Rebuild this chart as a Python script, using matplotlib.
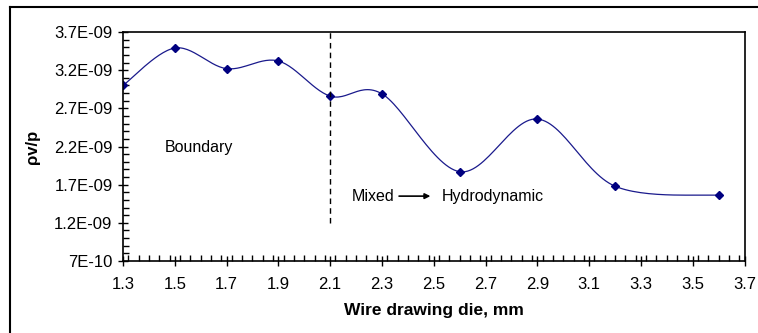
import numpy as np
import matplotlib.pyplot as plt
from matplotlib.lines import Line2D
from matplotlib.ticker import MultipleLocator, FuncFormatter

plt.rcParams['font.family'] = ['Liberation Sans', 'DejaVu Sans']

die_mm = [1.3, 1.5, 1.7, 1.9, 2.1, 2.3, 2.6, 2.9, 3.2, 3.6]
ratio = [3.00e-9, 3.49e-9, 3.22e-9, 3.32e-9, 2.86e-9, 2.89e-9, 1.87e-9, 2.56e-9, 1.68e-9, 1.56e-9]

regime_x = 2.1
regime_bottom = 1.2e-9


def smooth(xs, ys, n=30):
    # catmull-rom like excel's smoothed line
    px = np.array([xs[0]] + list(xs) + [xs[-1]])
    py = np.array([ys[0]] + list(ys) + [ys[-1]])
    cx, cy = [], []
    t = np.linspace(0, 1, n)
    for i in range(1, len(px) - 2):
        p0 = np.array([px[i], py[i]])
        p3 = np.array([px[i + 1], py[i + 1]])
        p1 = p0 + (np.array([px[i + 1], py[i + 1]]) - np.array([px[i - 1], py[i - 1]])) / 6
        p2 = p3 - (np.array([px[i + 2], py[i + 2]]) - np.array([px[i], py[i]])) / 6
        for tt in t:
            b = ((1 - tt) ** 3) * p0 + 3 * ((1 - tt) ** 2) * tt * p1 + 3 * (1 - tt) * tt ** 2 * p2 + tt ** 3 * p3
            cx.append(b[0])
            cy.append(b[1])
    return cx, cy


fig = plt.figure(figsize=(7.58, 3.33), dpi=100)
ax = fig.add_axes([0.1623, 0.2162, 0.8199, 0.6877])

sx, sy = smooth(die_mm, ratio)
ax.plot(sx, sy, color='#1a1a8c', lw=0.9)
ax.plot(die_mm, ratio, linestyle='none', marker='D', ms=4.5, color='#000080')

ax.plot([regime_x, regime_x], [regime_bottom, 3.7e-9], color='black', lw=1.0,
        linestyle=(0, (4, 3)))

ax.text(1.462, 2.19e-9, 'Boundary', fontsize=11.5, va='center', ha='left')
ax.text(2.184, 1.55e-9, 'Mixed', fontsize=11.5, va='center', ha='left')
ax.annotate('', xy=(2.487, 1.55e-9), xytext=(2.366, 1.55e-9),
            arrowprops=dict(arrowstyle='-|>', color='black', lw=1.2, mutation_scale=8,
                            shrinkA=0, shrinkB=0))
ax.text(2.531, 1.55e-9, 'Hydrodynamic', fontsize=11.5, va='center', ha='left')

ax.set_xlim(1.3, 3.7)
ax.set_ylim(7e-10, 3.7e-9)
ax.xaxis.set_minor_locator(MultipleLocator(0.04))
ax.yaxis.set_minor_locator(MultipleLocator(1e-10))
ax.set_xticks(np.arange(1.3, 3.71, 0.2))
ax.set_yticks(np.arange(7e-10, 3.71e-9, 5e-10))
ax.xaxis.set_major_formatter(FuncFormatter(lambda v, p: f'{v:.1f}'))
ax.yaxis.set_major_formatter(FuncFormatter(lambda v, p: f'{v:.1E}'.replace('.0E', 'E')))
ax.tick_params(which='major', direction='inout', length=7, width=1, labelsize=12, pad=4)
ax.tick_params(axis='x', which='major', pad=8)
ax.tick_params(which='minor', direction='in', length=4, width=1)
for s in ax.spines.values():
    s.set_linewidth(1.2)

ax.set_xlabel('Wire drawing die, mm', fontsize=12.5, fontweight='bold', labelpad=8)
ax.set_ylabel('ρv/p', fontsize=12, fontweight='bold', labelpad=10)

# outer chart frame
fig.add_artist(Line2D([10 / 758, 10 / 758], [0, 1 - 7 / 333], color='black', lw=1.5,
                      transform=fig.transFigure))
fig.add_artist(Line2D([10 / 758, 1], [1 - 7 / 333, 1 - 7 / 333], color='black', lw=1.5,
                      transform=fig.transFigure))

fig.savefig('out.png', dpi=100)
